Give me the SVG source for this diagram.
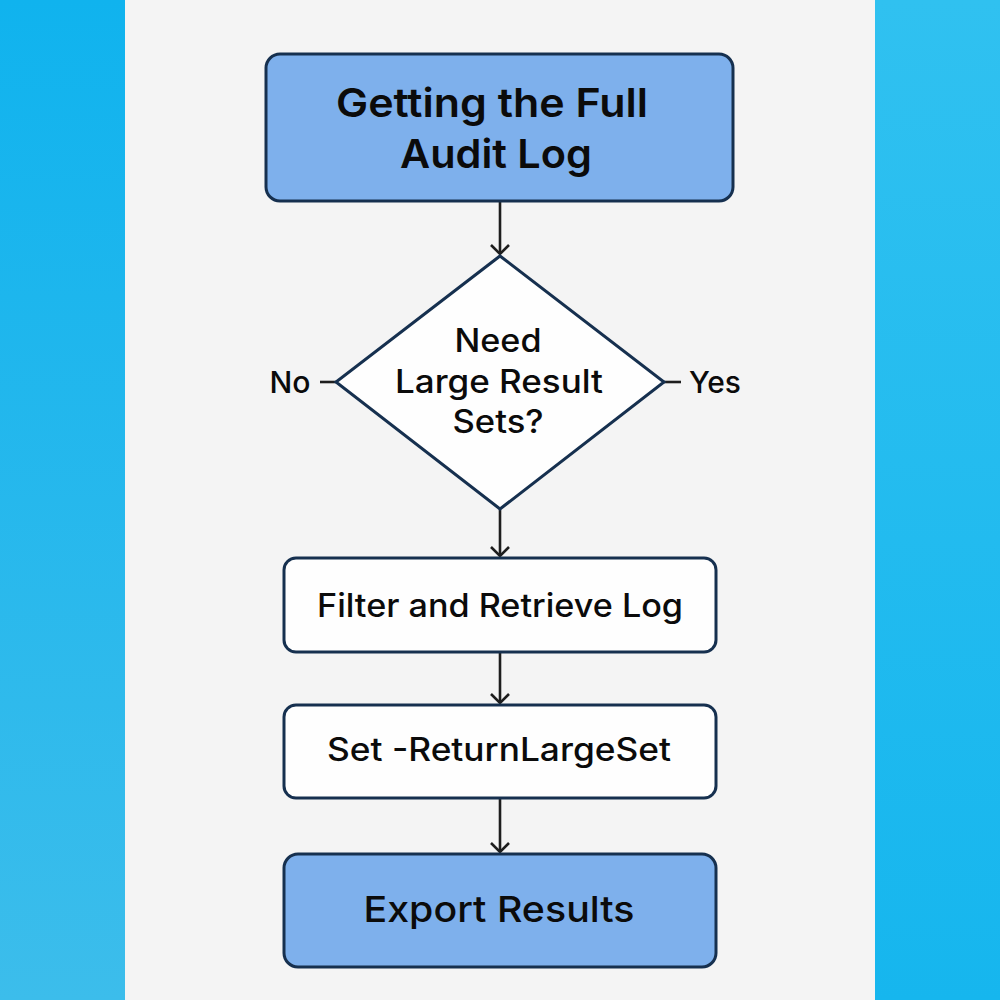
<svg xmlns="http://www.w3.org/2000/svg" width="1000" height="1000" viewBox="0 0 1000 1000">
<defs>
<linearGradient id="bgL" x1="0" y1="0" x2="0" y2="1"><stop offset="0" stop-color="#10B3EE"/><stop offset="1" stop-color="#3CBDEB"/></linearGradient>
<linearGradient id="bgR" x1="0" y1="0" x2="0" y2="1"><stop offset="0" stop-color="#30C1F0"/><stop offset="1" stop-color="#16B6EE"/></linearGradient>
<style>
.node{stroke:#16304f;stroke-width:3}
.blue{fill:#7EB0EC}
.white{fill:#FEFEFE}
.t{font-family:Inter,"Noto Sans","Liberation Sans",sans-serif;fill:#0b0b0b;text-anchor:middle}
.conn{stroke:#1e1e1e;stroke-width:2.6;fill:none}
</style>
</defs>
<rect x="0" y="0" width="1000" height="1000" fill="#F4F4F4"/>
<rect x="0" y="0" width="125" height="1000" fill="url(#bgL)"/>
<rect x="875" y="0" width="125" height="1000" fill="url(#bgR)"/>
<g id="connectors">
<line class="conn" x1="500" y1="202" x2="500" y2="254"/>
<path class="conn" d="M491 245 L500 254 L509 245"/>
<line class="conn" x1="500" y1="510" x2="500" y2="556"/>
<path class="conn" d="M491 547 L500 556 L509 547"/>
<line class="conn" x1="500" y1="653" x2="500" y2="703"/>
<path class="conn" d="M491 694 L500 703 L509 694"/>
<line class="conn" x1="500" y1="799" x2="500" y2="852"/>
<path class="conn" d="M491 843 L500 852 L509 843"/>
<line class="conn" x1="320" y1="382" x2="336" y2="382"/>
<line class="conn" x1="664" y1="382" x2="681" y2="382"/>
</g>
<g id="start">
<rect class="node blue" x="266" y="54" width="467" height="147" rx="14"/>
<text class="t" x="492" y="117" font-size="40" font-weight="600" textLength="312" lengthAdjust="spacingAndGlyphs">Getting the Full</text>
<text class="t" x="496" y="168" font-size="40" font-weight="600" textLength="192" lengthAdjust="spacingAndGlyphs">Audit Log</text>
</g>
<g id="decision">
<polygon class="node white" points="500,256 664,382 500,509 336,382"/>
<text class="t" x="498" y="352" font-size="32" font-weight="500" textLength="87" lengthAdjust="spacingAndGlyphs">Need</text>
<text class="t" x="499" y="393" font-size="32" font-weight="500" textLength="208" lengthAdjust="spacingAndGlyphs">Large Result</text>
<text class="t" x="498" y="433" font-size="32" font-weight="500" textLength="91" lengthAdjust="spacingAndGlyphs">Sets?</text>
</g>
<g id="label-no">
<text class="t" x="290" y="393" font-size="30" font-weight="500" textLength="41" lengthAdjust="spacingAndGlyphs">No</text>
</g>
<g id="label-yes">
<text class="t" x="715" y="393" font-size="30" font-weight="500" textLength="52" lengthAdjust="spacingAndGlyphs">Yes</text>
</g>
<g id="filter">
<rect class="node white" x="284" y="558" width="432" height="94" rx="12"/>
<text class="t" x="500" y="617" font-size="32" font-weight="500" textLength="366" lengthAdjust="spacingAndGlyphs">Filter and Retrieve Log</text>
</g>
<g id="setlarge">
<rect class="node white" x="284" y="705" width="432" height="93" rx="12"/>
<text class="t" x="499" y="761" font-size="32" font-weight="500" textLength="344" lengthAdjust="spacingAndGlyphs">Set -ReturnLargeSet</text>
</g>
<g id="export">
<rect class="node blue" x="284" y="854" width="432" height="113" rx="14"/>
<text class="t" x="499" y="922" font-size="36" font-weight="500" textLength="271" lengthAdjust="spacingAndGlyphs">Export Results</text>
</g>
</svg>
